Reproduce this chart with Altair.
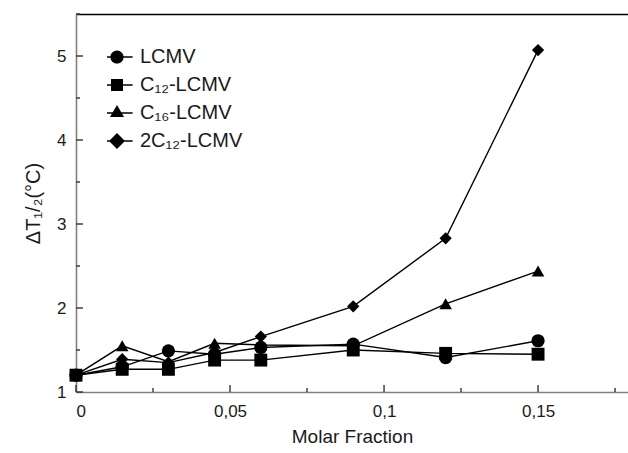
import altair as alt
import pandas as pd

x_vals = [0, 0.015, 0.03, 0.045, 0.06, 0.09, 0.12, 0.15]
series_names = ["LCMV", "C₁₂-LCMV", "C₁₆-LCMV", "2C₁₂-LCMV"]
lcmv = [1.2, 1.3, 1.49, 1.45, 1.53, 1.57, 1.41, 1.61]
c12_lcmv = [1.2, 1.27, 1.27, 1.38, 1.38, 1.5, 1.46, 1.45]
c16_lcmv = [1.2, 1.55, 1.36, 1.58, 1.56, 1.55, 2.05, 2.44]
c2_12_lcmv = [1.2, 1.39, 1.35, 1.47, 1.66, 2.02, 2.83, 5.07]

x_major = [0, 0.05, 0.1, 0.15]
x_minor = [0.025, 0.075, 0.125, 0.175]
y_major = [1, 2, 3, 4, 5]
y_minor = [1.5, 2.5, 3.5, 4.5, 5.5]

rows = []
for name, vals in zip(series_names, [lcmv, c12_lcmv, c16_lcmv, c2_12_lcmv]):
    for xv, yv in zip(x_vals, vals):
        rows.append({"x": xv, "y": yv, "series": name})
df = pd.DataFrame(rows)

FONT = "Liberation Sans"
TXT = "#1a1a1a"
xscale = alt.Scale(domain=[0, 0.1792], nice=False, zero=False)
yscale = alt.Scale(domain=[1, 5.5], nice=False, zero=False)

marker_shapes = ["circle", "square", "triangle-up", "diamond"]
marker_sizes = [175, 150, 196, 256]
BAR = "M-2.6,-0.12H2.6V0.12H-2.6Z"
legend_paths = [
    BAR + "M1.1,0A1.1,1.1,0,1,1,-1.1,0A1.1,1.1,0,1,1,1.1,0Z",
    BAR + "M-1,-1H1V1H-1Z",
    BAR + "M0,-1.35L1.17,0.67H-1.17Z",
    BAR + "M0,-1.33L1.33,0L0,1.33L-1.33,0Z",
]

base = alt.Chart(df)

lines = base.mark_line(color="black", strokeWidth=1.4).encode(
    x=alt.X("x:Q", scale=xscale, title="Molar Fraction",
            axis=alt.Axis(values=x_major, orient="bottom",
                          labelExpr="replace(format(datum.value, '.2~f'), '.', ',')",
                          ticks=False, tickSize=0, labelPadding=11,
                          domainColor="#808080", domainWidth=1.6,
                          labelFont=FONT, labelFontSize=17, labelColor=TXT,
                          titleFont=FONT, titleFontSize=19, titleFontWeight="normal",
                          titleColor=TXT, titlePadding=8, grid=False)),
    y=alt.Y("y:Q", scale=yscale, title="ΔT₁/₂(°C)",
            axis=alt.Axis(values=y_major, orient="left", format="d",
                          ticks=False, tickSize=0, labelPadding=10,
                          domainColor="#808080", domainWidth=1.6,
                          labelFont=FONT, labelFontSize=17, labelColor=TXT,
                          titleFont=FONT, titleFontSize=20, titleFontWeight="normal",
                          titleColor=TXT, titlePadding=13, grid=False)),
    detail="series:N",
)

points = base.mark_point(filled=True, color="black", opacity=1).encode(
    x=alt.X("x:Q", scale=xscale, axis=None),
    y=alt.Y("y:Q", scale=yscale, axis=None),
    shape=alt.Shape("series:N", scale=alt.Scale(domain=series_names, range=marker_shapes), legend=None),
    size=alt.Size("series:N", scale=alt.Scale(domain=series_names, range=marker_sizes), legend=None),
)

legend_layer = base.mark_point(filled=True, color="black", opacity=0).encode(
    x=alt.X("x:Q", scale=xscale,
            axis=alt.Axis(orient="top", labels=False, ticks=False, domainColor="black",
                          domainWidth=1.3, title=None, grid=False)),
    y=alt.Y("y:Q", scale=yscale, axis=None),
    shape=alt.Shape("series:N", scale=alt.Scale(domain=series_names, range=legend_paths),
                    legend=alt.Legend(orient="none", legendX=31, legendY=29, title=None,
                                      symbolSize=144, labelFont=FONT, labelFontSize=20,
                                      labelColor=TXT, labelOffset=13, clipHeight=28,
                                      rowPadding=0, padding=0, symbolStrokeWidth=0,
                                      symbolFillColor="black", symbolOpacity=1)),
)

TICK_COLOR = "#333333"
x_major_ticks = alt.Chart(pd.DataFrame({"t": x_major})).mark_rule(color=TICK_COLOR, strokeWidth=1.4).encode(
    x=alt.X("t:Q", scale=xscale, axis=None), y=alt.value(378), y2=alt.value(371))
x_minor_ticks = alt.Chart(pd.DataFrame({"t": x_minor})).mark_rule(color=TICK_COLOR, strokeWidth=1.4).encode(
    x=alt.X("t:Q", scale=xscale, axis=None), y=alt.value(378), y2=alt.value(374))
y_major_ticks = alt.Chart(pd.DataFrame({"t": y_major})).mark_rule(color=TICK_COLOR, strokeWidth=1.4).encode(
    y=alt.Y("t:Q", scale=yscale, axis=None), x=alt.value(0), x2=alt.value(7))
y_minor_ticks = alt.Chart(pd.DataFrame({"t": y_minor})).mark_rule(color=TICK_COLOR, strokeWidth=1.4).encode(
    y=alt.Y("t:Q", scale=yscale, axis=None), x=alt.value(0), x2=alt.value(4))

chart = alt.layer(
    x_major_ticks, x_minor_ticks, y_major_ticks, y_minor_ticks, lines, points, legend_layer
).resolve_axis(
    x="independent", y="independent"
).resolve_scale(shape="independent").properties(
    width=552, height=378,
    autosize=alt.AutoSizeParams(type="none"),
    padding={"left": 76, "top": 14, "right": 0, "bottom": 61},
    background="white",
).configure_view(stroke=None)

chart.save("out.html", embed_options={"renderer": "svg", "actions": False})
